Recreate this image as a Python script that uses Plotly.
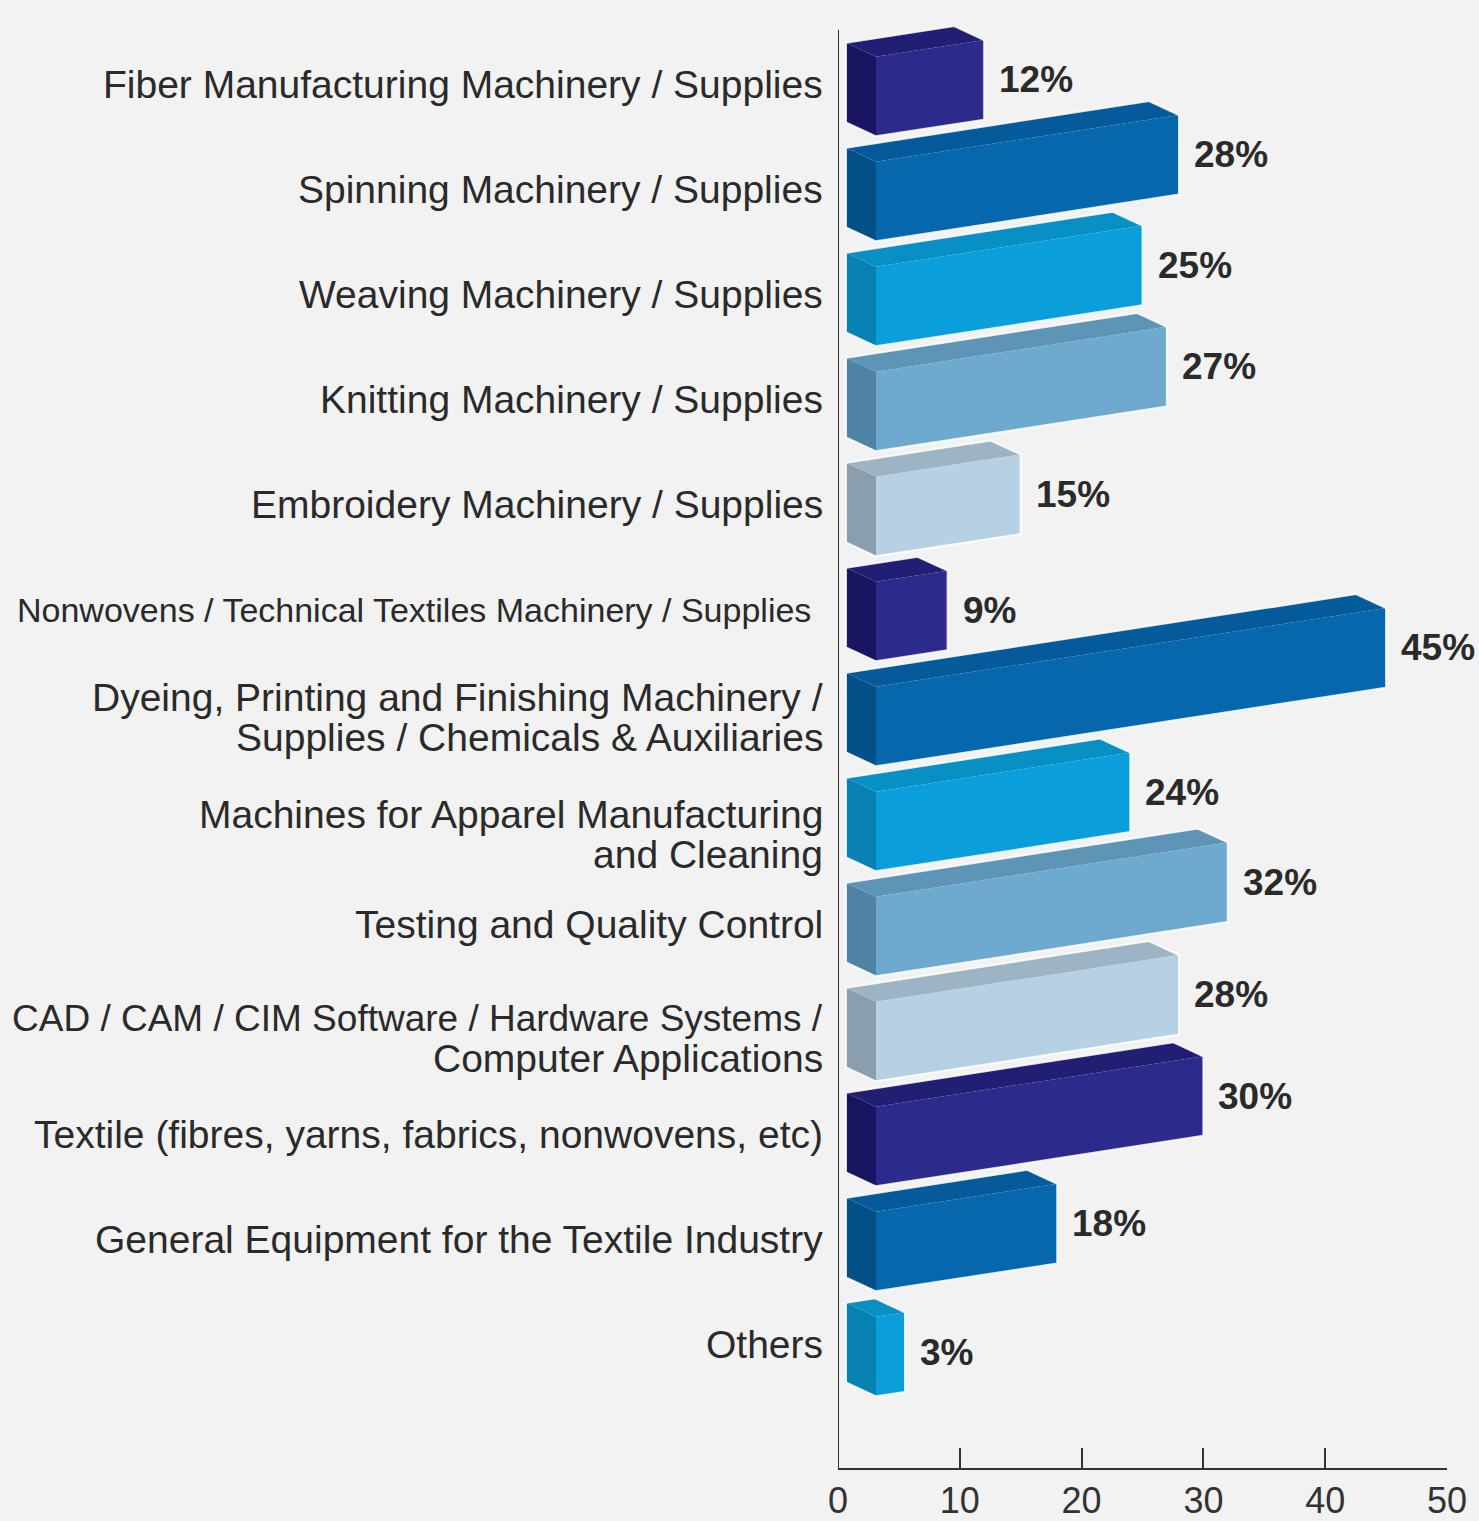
import plotly.graph_objects as go

# ---- data -------------------------------------------------------------
categories = [
    "Fiber Manufacturing Machinery / Supplies",
    "Spinning Machinery / Supplies",
    "Weaving Machinery / Supplies",
    "Knitting Machinery / Supplies",
    "Embroidery Machinery / Supplies",
    "Nonwovens / Technical Textiles Machinery / Supplies",
    "Dyeing, Printing and Finishing Machinery /<br>Supplies / Chemicals & Auxiliaries",
    "Machines for Apparel Manufacturing<br>and Cleaning",
    "Testing and Quality Control",
    "CAD / CAM / CIM Software / Hardware Systems /<br>Computer Applications",
    "Textile (fibres, yarns, fabrics, nonwovens, etc)",
    "General Equipment for the Textile Industry",
    "Others",
]
values = [12, 28, 25, 27, 15, 9, 45, 24, 32, 28, 30, 18, 3]
value_labels = [f"{v}%" for v in values]
x_ticks = [0, 10, 20, 30, 40, 50]

# ---- styling -----------------------------------------------------------
W, H = 1479, 1521
AX_LEFT_PX, AX_RIGHT_PX = 838, 1447      # pixel columns of 0 and 50
X_MAX = 50
PX_PER_X = (AX_RIGHT_PX - AX_LEFT_PX) / X_MAX
ROW0_PX, ROW_STEP_PX = 80, 105.5         # first category centre, row pitch
AXIS_BOTTOM_PX = 1475
AXIS_TOP_PX = 30


def rows(px):
    """Convert a pixel row into category units (row 0 at the top)."""
    return (px - ROW0_PX) / ROW_STEP_PX


# 3-D bar geometry (front face, side face to the left, top face)
FRONT_X0 = 38 / PX_PER_X                  # front face starts a little off the axis
MIN_FRONT = 29 / PX_PER_X                 # thinnest front face that stays visible
DEPTH_X = -30 / PX_PER_X
DEPTH_Y = -14 / ROW_STEP_PX
TOP_OFF = -23 / ROW_STEP_PX
BOT_OFF = 57 / ROW_STEP_PX
SKEW = -0.155 * PX_PER_X / ROW_STEP_PX    # bars rise towards the right

palette = {
    "navy":  dict(front="#2c2a8a", side="#1a1560", top="#221e74"),
    "blue":  dict(front="#0767ad", side="#034f88", top="#045a9a"),
    "cyan":  dict(front="#0a9fda", side="#0780b2", top="#088fc4"),
    "steel": dict(front="#6eaacf", side="#4f84a6", top="#5e94b6"),
    "light": dict(front="#b6d1e3", side="#8a9eae", top="#9db4c5"),
}
shade_cycle = ["navy", "blue", "cyan", "steel", "light"]

LABEL_FONT = "Liberation Sans, Arial, sans-serif"
TEXT_COLOR = "#2a2a2a"
LABEL_SIZE = 39
LINE_PX = 40
LABEL_GAP_PX = 13                         # gap between labels and the axis
LABEL_DY_PX = 5                           # baseline drop of all category labels
label_nudge_px = {6: 3, 7: 15, 9: 9}      # vertical nudge of two-line labels
label_shift_px = {5: 12}                  # extra gap for the condensed label
# (row, line) -> font size for lines that are set tighter
line_size_override = {(5, 0): 34, (9, 0): 37}

fig = go.Figure()


def poly(xs, ys, color):
    fig.add_trace(go.Scatter(
        x=xs + [xs[0]], y=ys + [ys[0]], mode="lines", fill="toself",
        fillcolor=color, line=dict(width=0, color=color),
        hoverinfo="skip", showlegend=False))


annotations = []
for i, (cat, v) in enumerate(zip(categories, values)):
    col = palette[shade_cycle[i % len(shade_cycle)]]
    xr = max(v, FRONT_X0 + MIN_FRONT)
    yt0, yb0 = i + TOP_OFF, i + BOT_OFF
    rise = SKEW * (xr - FRONT_X0)
    yt1, yb1 = yt0 + rise, yb0 + rise
    bx = FRONT_X0 + DEPTH_X

    # side face
    poly([FRONT_X0, FRONT_X0, bx, bx],
         [yt0, yb0, yb0 + DEPTH_Y, yt0 + DEPTH_Y], col["side"])
    # top face
    poly([FRONT_X0, xr, xr + DEPTH_X, bx],
         [yt0, yt1, yt1 + DEPTH_Y, yt0 + DEPTH_Y], col["top"])
    # front face
    poly([FRONT_X0, xr, xr, FRONT_X0], [yt0, yt1, yb1, yb0], col["front"])
    # light rim around the silhouette
    sx = [bx, xr + DEPTH_X, xr, xr, FRONT_X0, bx, bx]
    sy = [yt0 + DEPTH_Y, yt1 + DEPTH_Y, yt1, yb1, yb0, yb0 + DEPTH_Y, yt0 + DEPTH_Y]
    fig.add_trace(go.Scatter(
        x=sx, y=sy, mode="lines",
        line=dict(width=2, color="rgba(255,255,255,0.85)"),
        hoverinfo="skip", showlegend=False))

    # value label beside the front face
    annotations.append(dict(
        x=xr + 13 / PX_PER_X, y=(yt1 + yb1) / 2, xref="x", yref="y",
        text=value_labels[i], showarrow=False, xanchor="left", yanchor="middle",
        font=dict(family=LABEL_FONT, size=37, color=TEXT_COLOR, weight="bold")))

    # category label, one annotation per line for tight line spacing
    lines = cat.split("<br>")
    centre_px = (ROW0_PX + i * ROW_STEP_PX + LABEL_DY_PX
                 + label_nudge_px.get(i, 0))
    gap_px = LABEL_GAP_PX + label_shift_px.get(i, 0)
    for j, line in enumerate(lines):
        ly_px = centre_px + (j - (len(lines) - 1) / 2) * LINE_PX
        annotations.append(dict(
            x=-gap_px / (AX_RIGHT_PX - AX_LEFT_PX), y=rows(ly_px),
            xref="paper", yref="y",
            text=line, showarrow=False, xanchor="right", yanchor="middle",
            font=dict(family=LABEL_FONT,
                      size=line_size_override.get((i, j), LABEL_SIZE),
                      color=TEXT_COLOR)))

fig.update_layout(
    width=W, height=H, autosize=False,
    margin=dict(l=AX_LEFT_PX, r=W - AX_RIGHT_PX, t=0, b=H - AXIS_BOTTOM_PX, pad=0),
    paper_bgcolor="#f2f2f2", plot_bgcolor="#f2f2f2",
    showlegend=False,
    annotations=annotations,
    shapes=[dict(type="line", xref="x", yref="y", x0=0, x1=0,
                 y0=rows(AXIS_BOTTOM_PX), y1=rows(AXIS_TOP_PX),
                 line=dict(color="#333333", width=2))],
    xaxis=dict(
        range=[0, X_MAX], tickvals=x_ticks, ticktext=[str(t) for t in x_ticks],
        ticks="inside", ticklen=20, tickwidth=2, tickcolor="#333333",
        showline=True, linecolor="#333333", linewidth=2,
        showgrid=False, zeroline=False, fixedrange=True,
        tickfont=dict(family=LABEL_FONT, size=36, color="#333333"),
    ),
    yaxis=dict(
        range=[rows(AXIS_BOTTOM_PX), rows(0)], visible=False,
        showgrid=False, zeroline=False, fixedrange=True,
    ),
)

fig.write_html("out.html")
